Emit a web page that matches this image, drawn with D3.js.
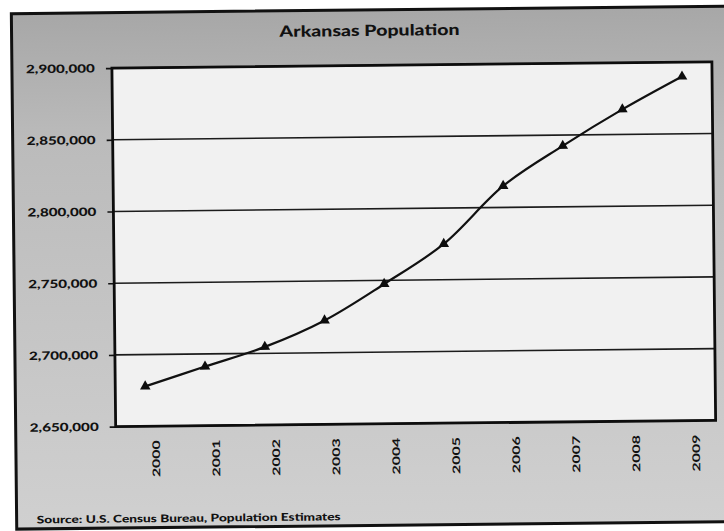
<!DOCTYPE html>
<html>
<head>
<meta charset="utf-8">
<script src="https://cdn.jsdelivr.net/npm/d3@7"></script>
<style>
  html, body { margin: 0; padding: 0; background: #ffffff; }
  svg { display: block; }
</style>
</head>
<body>
<svg id="chart" width="724" height="531"></svg>
<script>
// Arkansas resident population estimates, 2000–2009
const years = ["2000", "2001", "2002", "2003", "2004", "2005", "2006", "2007", "2008", "2009"];
const population = [2677800, 2691200, 2704500, 2722500, 2747500, 2775000, 2815000, 2842500, 2867500, 2890000];
const yTicks = [2650000, 2700000, 2750000, 2800000, 2850000, 2900000];
const titleText = "Arkansas Population";
const sourceText = "Source: U.S. Census Bureau, Population Estimates";

const W = 724, H = 531;
const plot = { left: 114, right: 714, top: 65.5, bottom: 424 };
const font = "Lato, 'Open Sans', 'DejaVu Sans', sans-serif";

const svg = d3.select("#chart");

const defs = svg.append("defs");
const grad = defs.append("linearGradient")
  .attr("id", "frameFill").attr("x1", 0).attr("y1", 0).attr("x2", 0).attr("y2", 1);
grad.append("stop").attr("offset", "0%").attr("stop-color", "#a7a7a7");
grad.append("stop").attr("offset", "25%").attr("stop-color", "#bbbbbb");
grad.append("stop").attr("offset", "100%").attr("stop-color", "#d0d0d0");

// whole chart sits slightly tilted on the page
const root = svg.append("g").attr("transform", `rotate(-0.6, ${W / 2}, ${H / 2})`);

// outer chart frame
root.append("rect")
  .attr("x", 14).attr("y", 10).attr("width", 740).attr("height", 515.5)
  .attr("fill", "url(#frameFill)")
  .attr("stroke", "#111").attr("stroke-width", 3);

// title
root.append("text")
  .attr("x", 372).attr("y", 36)
  .attr("text-anchor", "middle")
  .attr("font-family", font).attr("font-weight", 900).attr("font-size", 15.5)
  .attr("textLength", 180).attr("lengthAdjust", "spacingAndGlyphs")
  .attr("fill", "#111")
  .text(titleText);

// scales
const x = d3.scaleBand().domain(years).range([plot.left, plot.right]);
const y = d3.scaleLinear().domain([2650000, 2900000]).range([plot.bottom, plot.top]);

// plot area background
root.append("rect")
  .attr("x", plot.left).attr("y", plot.top)
  .attr("width", plot.right - plot.left).attr("height", plot.bottom - plot.top)
  .attr("fill", "#f1f1f1");

// horizontal gridlines
root.append("g")
  .selectAll("line").data(yTicks).join("line")
  .attr("x1", plot.left).attr("x2", plot.right)
  .attr("y1", d => y(d)).attr("y2", d => y(d))
  .attr("stroke", "#1c1c1c").attr("stroke-width", 1.6);

// y axis
const yAxis = d3.axisLeft(y)
  .tickValues(yTicks)
  .tickFormat(d3.format(","))
  .tickSize(6)
  .tickPadding(11);
const yG = root.append("g").attr("transform", `translate(${plot.left},0)`).call(yAxis);
yG.select(".domain").remove();
yG.selectAll(".tick line").attr("stroke", "#111").attr("stroke-width", 1.6);
yG.selectAll(".tick text")
  .attr("font-family", font).attr("font-weight", 900).attr("font-size", 11.5)
  .attr("fill", "#111")
  .attr("textLength", 69).attr("lengthAdjust", "spacingAndGlyphs");

// x axis: year labels rotated to read bottom-to-top
const xAxis = d3.axisBottom(x).tickSize(0).tickPadding(0);
const xG = root.append("g").attr("transform", `translate(0,${plot.bottom})`).call(xAxis);
xG.select(".domain").remove();
xG.selectAll(".tick text")
  .attr("font-family", font).attr("font-weight", 700).attr("font-size", 10.5)
  .attr("fill", "#111")
  .attr("text-anchor", "end")
  .attr("textLength", 37).attr("lengthAdjust", "spacingAndGlyphs")
  .attr("transform", "translate(14,0) rotate(-90)")
  .attr("x", -14).attr("y", 0).attr("dy", "0");

// plot area border
root.append("rect")
  .attr("x", plot.left).attr("y", plot.top)
  .attr("width", plot.right - plot.left).attr("height", plot.bottom - plot.top)
  .attr("fill", "none")
  .attr("stroke", "#0d0d0d").attr("stroke-width", 2.8);

// population line
const pts = years.map((yr, i) => [x(yr) + x.bandwidth() / 2, y(population[i])]);
root.append("path")
  .attr("d", d3.line().curve(d3.curveCatmullRom.alpha(0.5))(pts))
  .attr("fill", "none")
  .attr("stroke", "#111").attr("stroke-width", 2.2);

// triangle markers
root.append("g")
  .selectAll("path").data(pts).join("path")
  .attr("transform", d => `translate(${d[0]},${d[1]})`)
  .attr("d", d3.symbol().type(d3.symbolTriangle).size(48))
  .attr("fill", "#0d0d0d");

// source note
root.append("text")
  .attr("x", 34).attr("y", 520)
  .attr("font-family", font).attr("font-weight", 900).attr("font-size", 10.5)
  .attr("textLength", 304).attr("lengthAdjust", "spacingAndGlyphs")
  .attr("fill", "#111")
  .text(sourceText);
</script>
</body>
</html>
